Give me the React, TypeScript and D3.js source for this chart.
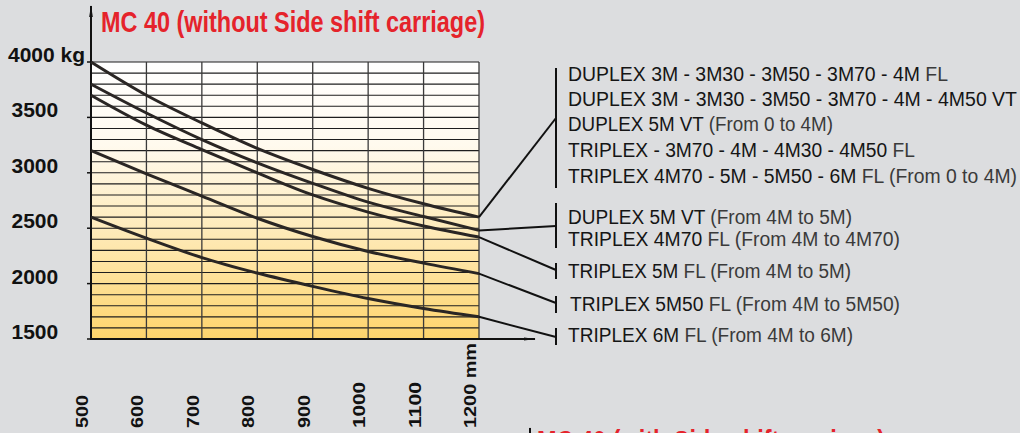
import React, { useEffect, useRef } from "react";
import * as d3 from "d3";

// load centre distance (mm) on the x axis
const distances = [500, 600, 700, 800, 900, 1000, 1100, 1200];
// y axis ticks (kg)
const kgTicks = [1500, 2000, 2500, 3000, 3500, 4000];

// capacity curves (kg at each distance)
const duplexFromZero = [4000, 3700, 3450, 3220, 3030, 2860, 2720, 2600];
const duplex5mTriplex4m70 = [3800, 3540, 3300, 3090, 2905, 2735, 2605, 2480];
const triplex5m = [3700, 3430, 3210, 3000, 2800, 2645, 2520, 2420];
const triplex5m50 = [3200, 2990, 2790, 2590, 2425, 2290, 2185, 2090];
const triplex6m = [2600, 2410, 2235, 2095, 1975, 1865, 1775, 1700];

// legend texts: [main part, thin part]
const legendFromZero = [
  ["DUPLEX 3M - 3M30 - 3M50 - 3M70 - 4M", " FL"],
  ["DUPLEX 3M - 3M30 - 3M50 - 3M70 - 4M - 4M50 VT", ""],
  ["DUPLEX 5M VT", " (From 0 to 4M)"],
  ["TRIPLEX - 3M70 - 4M - 4M30 - 4M50", " FL"],
  ["TRIPLEX 4M70 - 5M - 5M50 - 6M", " FL (From 0 to 4M)"],
];
const legendDuplex5m = [
  ["DUPLEX 5M VT", " (From 4M to 5M)"],
  ["TRIPLEX 4M70", " FL (From 4M to 4M70)"],
];
const legendTriplex5m = [["TRIPLEX 5M", " FL (From 4M to 5M)"]];
const legendTriplex5m50 = [["TRIPLEX 5M50", " FL (From 4M to 5M50)"]];
const legendTriplex6m = [["TRIPLEX 6M", " FL (From 4M to 6M)"]];

const series = [duplexFromZero, duplex5mTriplex4m70, triplex5m, triplex5m50, triplex6m];

// where each legend block sits (baselines, bracket, widths)
const legendLayout = [
  { lines: legendFromZero, base: [81, 106, 131, 157, 183], bar: [68, 188], hit: 118, widths: [380, 449, 265, 347, 449], x: 568 },
  { lines: legendDuplex5m, base: [224, 246], bar: [203, 248], hit: 226, widths: [284, 332], x: 568 },
  { lines: legendTriplex5m, base: [278], bar: [263, 279], hit: 270, widths: [283], x: 568 },
  { lines: legendTriplex5m50, base: [311], bar: [296, 313], hit: 303, widths: [330], x: 570 },
  { lines: legendTriplex6m, base: [342], bar: [328, 345], hit: 337, widths: [285], x: 568 },
];

const W = 1020,
  H = 433;

export default function App() {
  const ref = useRef<SVGSVGElement>(null);

  useEffect(() => {
    const svg = d3.select(ref.current);
    svg.selectAll("*").remove();

    const x = d3.scaleLinear().domain([500, 1200]).range([91, 479]);
    const y = d3.scaleLinear().domain([1500, 4000]).range([339, 62]);

    const defs = svg.append("defs");
    const grad = defs
      .append("linearGradient")
      .attr("id", "plotfill")
      .attr("x1", 0)
      .attr("y1", 0)
      .attr("x2", 0)
      .attr("y2", 1);
    grad.append("stop").attr("offset", "0%").attr("stop-color", "#ffffff");
    grad.append("stop").attr("offset", "30%").attr("stop-color", "#fffaee");
    grad.append("stop").attr("offset", "60%").attr("stop-color", "#feebbb");
    grad.append("stop").attr("offset", "100%").attr("stop-color", "#fed46c");

    ["arrUp", "arrRight"].forEach((id, i) => {
      defs
        .append("marker")
        .attr("id", id)
        .attr("viewBox", "0 0 12 6")
        .attr("refX", 11)
        .attr("refY", 3)
        .attr("markerWidth", 12)
        .attr("markerHeight", 6)
        .attr("markerUnits", "userSpaceOnUse")
        .attr("orient", "auto")
        .append("path")
        .attr("d", i === 0 ? "M0,1.2L12,3L0,4.8Z" : "M0,1.5L12,3L0,4.5Z")
        .attr("fill", "#111");
    });

    // background
    svg.append("rect").attr("width", W).attr("height", H).attr("fill", "#dcdddf");

    // title
    svg
      .append("text")
      .attr("x", 101)
      .attr("y", 32)
      .attr("textLength", 384)
      .attr("lengthAdjust", "spacingAndGlyphs")
      .attr("font-family", "'Liberation Sans Narrow', 'Liberation Sans', Arial, sans-serif")
      .attr("font-weight", "bold")
      .attr("font-size", 30)
      .attr("fill", "#e5232b")
      .text("MC 40 (without Side shift carriage)");

    // plot area
    svg
      .append("rect")
      .attr("x", x(500))
      .attr("y", y(4000))
      .attr("width", x(1200) - x(500))
      .attr("height", y(1500) - y(4000))
      .attr("fill", "url(#plotfill)");

    // horizontal grid every 100 kg
    svg
      .append("g")
      .selectAll("line")
      .data(d3.range(1600, 4001, 100))
      .enter()
      .append("line")
      .attr("x1", x(500))
      .attr("x2", x(1200))
      .attr("y1", (d) => y(d))
      .attr("y2", (d) => y(d))
      .attr("stroke", "#1e1e1e")
      .attr("stroke-width", 1.1);

    // vertical grid
    svg
      .append("g")
      .selectAll("line")
      .data(distances.slice(1))
      .enter()
      .append("line")
      .attr("x1", (d) => x(d))
      .attr("x2", (d) => x(d))
      .attr("y1", y(4000))
      .attr("y2", y(1500))
      .attr("stroke", "#3a3a3a")
      .attr("stroke-width", 1.3);

    // axes with arrows
    svg
      .append("line")
      .attr("x1", x(500))
      .attr("x2", x(500))
      .attr("y1", y(1500) + 1)
      .attr("y2", 6)
      .attr("stroke", "#111")
      .attr("stroke-width", 2)
      .attr("marker-end", "url(#arrUp)");
    svg
      .append("line")
      .attr("x1", x(500))
      .attr("x2", 535)
      .attr("y1", y(1500))
      .attr("y2", y(1500))
      .attr("stroke", "#111")
      .attr("stroke-width", 2)
      .attr("marker-end", "url(#arrRight)");

    // y ticks + labels
    const yl = svg.append("g");
    yl.selectAll("line")
      .data(kgTicks)
      .enter()
      .append("line")
      .attr("x1", 87)
      .attr("x2", 91)
      .attr("y1", (d) => y(d))
      .attr("y2", (d) => y(d))
      .attr("stroke", "#111")
      .attr("stroke-width", 1.5);
    yl.selectAll("text")
      .data(kgTicks)
      .enter()
      .append("text")
      .attr("x", (d) => (d === 4000 ? 8 : 11.5))
      .attr("y", (d) => y(d))
      .attr("font-family", "'Liberation Sans', Arial, sans-serif")
      .attr("font-weight", "bold")
      .attr("font-size", 21)
      .attr("fill", "#111")
      .text((d) => (d === 4000 ? d + " kg" : d));

    // x labels, rotated
    svg
      .append("g")
      .selectAll("text")
      .data(distances)
      .enter()
      .append("text")
      .attr("transform", (d) => `translate(${x(d) - 3},428) rotate(-90)`)
      .attr("font-family", "'Liberation Sans', Arial, sans-serif")
      .attr("font-weight", "bold")
      .attr("font-size", 17)
      .attr("fill", "#111")
      .attr("textLength", (d) => (d === 1200 ? 85 : d >= 1000 ? 46 : 33))
      .attr("lengthAdjust", "spacingAndGlyphs")
      .text((d) => (d === 1200 ? d + " mm" : d));

    // curves
    const line = d3
      .line<number>()
      .x((d, i) => x(distances[i]))
      .y((d) => y(d))
      .curve(d3.curveMonotoneX);

    svg
      .append("g")
      .selectAll("path")
      .data(series)
      .enter()
      .append("path")
      .attr("d", (d) => line(d))
      .attr("fill", "none")
      .attr("stroke", "#2a2624")
      .attr("stroke-width", 3);

    // legend blocks with leader lines
    legendLayout.forEach((g, gi) => {
      const s = series[gi];
      const grp = svg.append("g");
      grp
        .append("line")
        .attr("x1", x(1200))
        .attr("y1", y(s[s.length - 1]))
        .attr("x2", 556)
        .attr("y2", g.hit)
        .attr("stroke", "#111")
        .attr("stroke-width", 2);
      grp
        .append("line")
        .attr("x1", 556)
        .attr("x2", 556)
        .attr("y1", g.bar[0])
        .attr("y2", g.bar[1])
        .attr("stroke", "#111")
        .attr("stroke-width", 2);

      g.lines.forEach((l, li) => {
        const t = grp
          .append("text")
          .attr("x", g.x)
          .attr("y", g.base[li])
          .attr("textLength", g.widths[li])
          .attr("lengthAdjust", "spacingAndGlyphs")
          .attr("font-family", "'Liberation Sans Narrow', 'Liberation Sans', Arial, sans-serif")
          .attr("font-size", 20);
        t.append("tspan").attr("fill", "#151515").text(l[0]);
        if (l[1]) t.append("tspan").attr("fill", "#3a3a3a").text(l[1]);
      });
    });

    // top of the next chart peeking in at the bottom
    svg
      .append("line")
      .attr("x1", 530)
      .attr("x2", 530)
      .attr("y1", 440)
      .attr("y2", 428)
      .attr("stroke", "#111")
      .attr("stroke-width", 2)
      .attr("marker-end", "url(#arrUp)");
    svg
      .append("text")
      .attr("x", 537)
      .attr("y", 451)
      .attr("textLength", 348)
      .attr("lengthAdjust", "spacingAndGlyphs")
      .attr("font-family", "'Liberation Sans Narrow', 'Liberation Sans', Arial, sans-serif")
      .attr("font-weight", "bold")
      .attr("font-size", 30)
      .attr("fill", "#e5232b")
      .text("MC 40 (with Side shift carriage)");
  }, []);

  return (
    <svg
      ref={ref}
      width={W}
      height={H}
      style={{ position: "absolute", left: 0, top: 0, display: "block" }}
    />
  );
}
